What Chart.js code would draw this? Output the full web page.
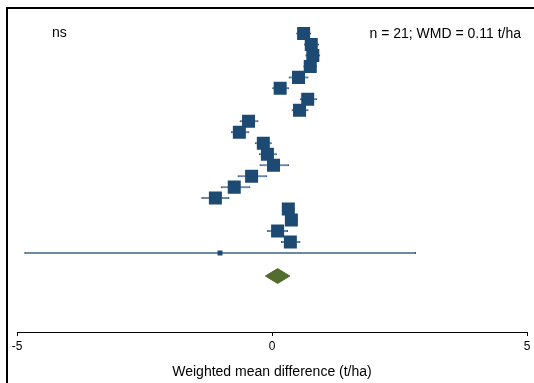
<!DOCTYPE html>
<html>
<head>
<meta charset="utf-8">
<script src="https://cdn.jsdelivr.net/npm/chart.js@4/dist/chart.umd.min.js"></script>
<style>
  html, body { margin: 0; padding: 0; background: #fff; overflow: hidden; }
  #wrap { width: 534px; height: 383px; position: relative; }
  canvas { display: block; }
</style>
</head>
<body>
<div id="wrap"><canvas id="forest" width="534" height="383"></canvas></div>
<script>
// Study-level weighted mean differences (t/ha), top to bottom
const effect = [0.62, 0.77, 0.80, 0.75, 0.52, 0.16, 0.70, 0.54, -0.46, -0.64, -0.17,
                -0.09, 0.03, -0.40, -0.74, -1.11, 0.32, 0.38, 0.11, 0.36, -1.02];
const ciLow  = [0.48, 0.63, 0.66, 0.62, 0.33, 0.00, 0.55, 0.39, -0.63, -0.80, -0.33,
                -0.25, -0.24, -0.67, -1.00, -1.38, 0.20, 0.26, -0.09, 0.18, -4.85];
const ciHigh = [0.76, 0.92, 0.94, 0.88, 0.71, 0.33, 0.88, 0.71, -0.27, -0.45, 0.00,
                0.09, 0.33, -0.10, -0.43, -0.84, 0.44, 0.50, 0.31, 0.55, 2.82];

// Pooled estimate
const pooledWMD  = 0.11;
const pooledLow  = -0.13;
const pooledHigh = 0.35;

// Axis
const xTicks = [-5, 0, 5];
const xTitle = 'Weighted mean difference (t/ha)';
const sigLabel = 'ns';

const rows = effect.map((_, i) => i + 1);
const pooledRow = rows.length + 2.1;
const diamondHalf = 0.68;

const studyPoints = effect.map((v, i) => ({ x: v, y: rows[i] }));
const ciBars = effect.map((_, i) => ({ x: [ciLow[i], ciHigh[i]], y: rows[i] }));
const diamond = [
  { x: pooledLow, y: pooledRow },
  { x: pooledWMD, y: pooledRow - diamondHalf },
  { x: pooledHigh, y: pooledRow },
  { x: pooledWMD, y: pooledRow + diamondHalf },
  { x: pooledLow, y: pooledRow }
];

const FONT = '"Liberation Sans", Arial, sans-serif';

const framePlugin = {
  id: 'frame',
  beforeDraw(chart) {
    const ctx = chart.ctx;
    ctx.save();
    ctx.fillStyle = '#fff';
    ctx.fillRect(0, 0, chart.width, chart.height);
    ctx.strokeStyle = '#000';
    ctx.lineWidth = 2;
    ctx.beginPath();
    ctx.moveTo(7, chart.height);
    ctx.lineTo(7, 8);
    ctx.lineTo(chart.width, 8);
    ctx.stroke();
    ctx.restore();
  },
  afterDraw(chart) {
    const ctx = chart.ctx;
    ctx.save();
    ctx.fillStyle = '#000';
    ctx.font = '14px ' + FONT;
    ctx.textBaseline = 'middle';
    ctx.textAlign = 'left';
    ctx.fillText(sigLabel, 52, 33);
    ctx.textAlign = 'right';
    ctx.fillText('n = ' + effect.length + '; WMD = ' + pooledWMD.toFixed(2) + ' t/ha', 521, 34);
    ctx.restore();
  }
};

new Chart(document.getElementById('forest'), {
  type: 'scatter',
  data: {
    datasets: [
      {
        type: 'bar',
        indexAxis: 'y',
        data: ciBars,
        backgroundColor: '#6b88a6',
        borderColor: '#2a4d70',
        borderWidth: { left: 1, right: 1, top: 0, bottom: 0 },
        borderSkipped: false,
        barThickness: 2,
        order: 3
      },
      {
        data: studyPoints,
        pointStyle: 'rect',
        pointRadius: (c) => (ciHigh[c.dataIndex] - ciLow[c.dataIndex] > 3 ? 3.5 : 9.2),
        pointBackgroundColor: '#1c4a72',
        pointBorderColor: '#1c4a72',
        pointBorderWidth: 0,
        order: 1
      },
      {
        data: diamond,
        showLine: true,
        fill: 'shape',
        backgroundColor: '#536d2e',
        borderColor: '#536d2e',
        borderWidth: 1,
        pointRadius: 0,
        tension: 0,
        order: 2
      }
    ]
  },
  options: {
    responsive: false,
    animation: false,
    layout: { autoPadding: false, padding: { left: 17, right: 7, top: 22.5, bottom: 0 } },
    plugins: { legend: { display: false }, tooltip: { enabled: false } },
    scales: {
      x: {
        type: 'linear',
        min: -5,
        max: 5,
        offset: false,
        afterBuildTicks(scale) { scale.ticks = xTicks.map(v => ({ value: v })); },
        afterFit(scale) {
          scale.height = 51;
          scale.paddingLeft = 0;
          scale.paddingRight = 0;
        },
        grid: { display: true, drawOnChartArea: false, drawTicks: true, tickLength: 4, color: '#000', lineWidth: 1, offset: false },
        border: { display: true, color: '#000', width: 1 },
        ticks: { color: '#000', padding: 3, maxRotation: 0, font: { family: FONT, size: 12 } },
        title: { display: true, text: xTitle, color: '#000', padding: 2, font: { family: FONT, size: 14 } }
      },
      y: {
        type: 'linear',
        display: false,
        reverse: true,
        offset: false,
        grid: { offset: false },
        min: 0,
        max: 28.2
      }
    }
  },
  plugins: [framePlugin]
});
</script>
</body>
</html>
